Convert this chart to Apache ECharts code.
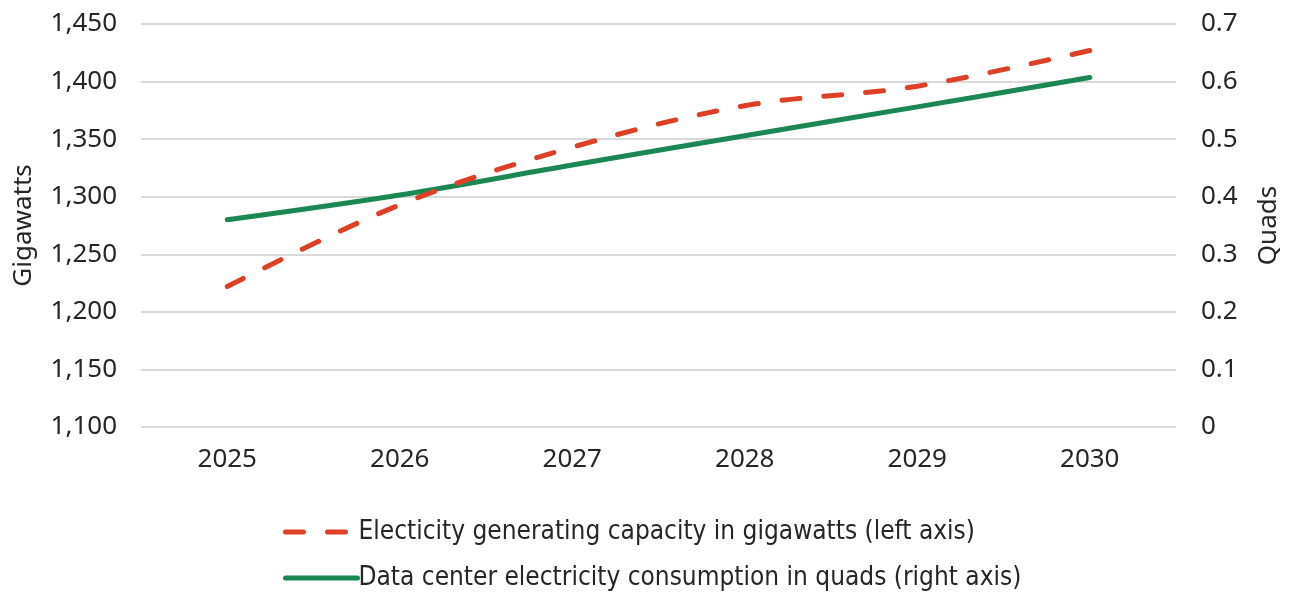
<!DOCTYPE html>
<html>
<head>
<meta charset="utf-8">
<script src="https://cdn.jsdelivr.net/npm/echarts@6/dist/echarts.min.js"></script>
<style>
  html, body { margin: 0; padding: 0; background: #ffffff; }
  #chart { width: 1290px; height: 594px; }
</style>
</head>
<body>
<div id="chart"></div>
<script>
// Years on the horizontal axis
const years = ['2025', '2026', '2027', '2028', '2029', '2030'];

// Electricity generating capacity, gigawatts (left axis)
const capacityGW = [1222, 1293, 1343, 1379, 1396, 1427];

// Data center electricity consumption, quads (right axis)
const dataCenterQuads = [0.36, 0.403, 0.455, 0.506, 0.556, 0.607];

const capacityName = 'Electicity generating capacity in gigawatts (left axis)';
const quadsName = 'Data center electricity consumption in quads (right axis)';

const RED = '#de4027';
const GREEN = '#1b8753';
const TEXT = '#262626';
const GRID = '#d9d9d9';
const tickFont = { fontFamily: 'Noto Sans', fontSize: 26, color: TEXT };
const redLine = { color: RED, width: 5, type: [18, 24], cap: 'round' };
const greenLine = { color: GREEN, width: 5, type: 'solid', cap: 'round' };

const chart = echarts.init(document.getElementById('chart'), null, { renderer: 'canvas' });

chart.setOption({
  animation: false,
  backgroundColor: '#ffffff',
  grid: { left: 141, right: 112, top: 24, bottom: 167, containLabel: false },
  legend: {
    orient: 'vertical',
    left: 283,
    top: 519,
    padding: 0,
    height: 74,
    itemGap: 20,
    itemWidth: 72,
    itemHeight: 26,
    // line only, no marker in the key
    itemStyle: { opacity: 0 },
    textStyle: {
      fontFamily: "'DejaVu Sans Condensed', 'Liberation Sans Narrow', Roboto",
      fontSize: 26,
      lineHeight: 26,
      color: TEXT,
      padding: [0, 0, 0, -4]
    },
    data: [
      { name: capacityName, lineStyle: redLine },
      { name: quadsName, lineStyle: greenLine }
    ]
  },
  xAxis: {
    type: 'category',
    data: years,
    boundaryGap: true,
    axisLine: { show: false },
    axisTick: { show: false },
    axisLabel: Object.assign({ margin: 20 }, tickFont)
  },
  yAxis: [
    {
      type: 'value',
      min: 1100,
      max: 1450,
      interval: 50,
      name: 'Gigawatts',
      nameLocation: 'middle',
      nameGap: 104,
      nameTextStyle: tickFont,
      axisLine: { show: false },
      axisTick: { show: false },
      axisLabel: Object.assign({
        margin: 24,
        formatter: v => v.toLocaleString('en-US')
      }, tickFont),
      splitLine: { show: true, lineStyle: { color: GRID, width: 2 } }
    },
    {
      type: 'value',
      min: 0,
      max: 0.7,
      interval: 0.1,
      name: 'Quads',
      nameLocation: 'middle',
      nameGap: 80,
      nameTextStyle: tickFont,
      axisLine: { show: false },
      axisTick: { show: false },
      axisLabel: Object.assign({
        margin: 25,
        formatter: v => (v === 0 ? '0' : v.toFixed(1))
      }, tickFont),
      splitLine: { show: false }
    }
  ],
  series: [
    {
      name: capacityName,
      type: 'line',
      yAxisIndex: 0,
      data: capacityGW,
      smooth: 0.35,
      symbol: 'none',
      lineStyle: redLine,
      itemStyle: { color: RED },
      z: 3
    },
    {
      name: quadsName,
      type: 'line',
      yAxisIndex: 1,
      data: dataCenterQuads,
      smooth: 0.35,
      symbol: 'none',
      lineStyle: greenLine,
      itemStyle: { color: GREEN },
      z: 2
    }
  ]
});
</script>
</body>
</html>
